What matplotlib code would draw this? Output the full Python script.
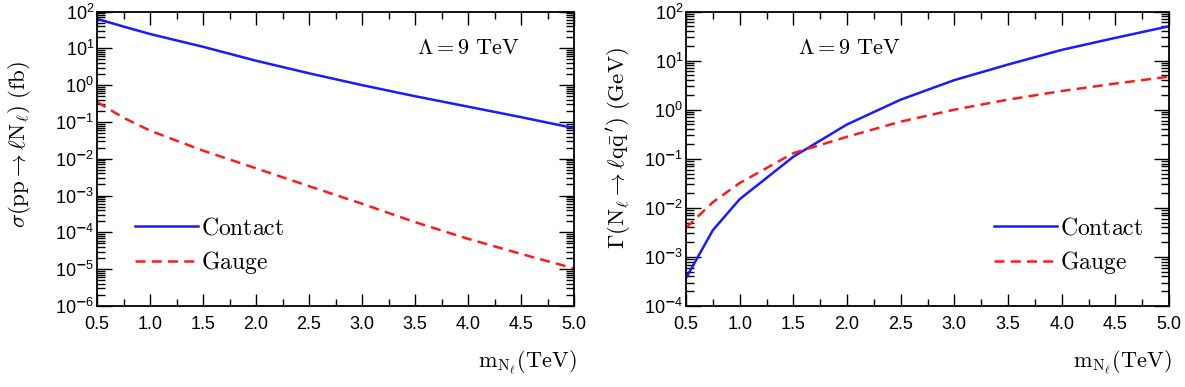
import matplotlib
matplotlib.use("Agg")
import matplotlib.pyplot as plt
from matplotlib.ticker import FixedLocator, LogLocator, FuncFormatter, NullFormatter
import numpy as np

plt.rcParams['mathtext.fontset'] = 'custom'
plt.rcParams['mathtext.rm'] = 'Liberation Sans'
plt.rcParams['mathtext.it'] = 'Liberation Sans:italic'
plt.rcParams['font.family'] = ['Liberation Sans', 'DejaVu Sans']

# ---- data ----
mass_left = [0.5, 0.75, 1.0, 1.5, 2.0, 2.5, 3.0, 3.5, 4.0, 4.5, 5.0]
sigma_contact = [63, 39, 24.5, 11, 4.6, 2.1, 1.0, 0.50, 0.26, 0.135, 0.068]
sigma_gauge = [0.35, 0.13, 0.058, 0.0166, 0.0055, 0.0018, 6.0e-4, 1.9e-4, 6.7e-5, 2.6e-5, 1.05e-5]

mass_right = [0.5, 0.75, 1.0, 1.5, 2.0, 2.5, 3.0, 3.5, 4.0, 4.5, 5.0]
gamma_contact = [3.7e-4, 3.5e-3, 0.015, 0.11, 0.50, 1.6, 4.0, 8.3, 16.5, 29, 50]
gamma_gauge = [3.9e-3, 0.013, 0.032, 0.13, 0.28, 0.57, 1.0, 1.6, 2.4, 3.4, 4.7]

series_labels = ['Contact', 'Gauge']
xticks = [0.5, 1.0, 1.5, 2.0, 2.5, 3.0, 3.5, 4.0, 4.5, 5.0]
lambda_text = r'$\Lambda = 9\ \mathrm{TeV}$'
xlabel = r'$\mathrm{m}_{\mathrm{N}_{\ell}}(\mathrm{TeV})$'
ylabel_left = r'$\sigma(\mathrm{pp}\rightarrow\ell\mathrm{N}_{\ell})\ (\mathrm{fb})$'
ylabel_right = r"$\Gamma(\mathrm{N}_{\ell}\rightarrow\ell\mathrm{q}\bar{\mathrm{q}}^{\,\prime})\ (\mathrm{GeV})$"

fig = plt.figure(figsize=(11.85, 3.87), dpi=100)
axL = fig.add_axes([97/1185, 1-306/387, 477/1185, 294.5/387])
axR = fig.add_axes([686/1185, 1-306/387, 483/1185, 294.5/387])

blue = '#1a1aff'
red = '#ff1a1a'

def fmt(v, pos):
    e = int(round(np.log10(v)))
    if e < 0:
        return r'$10^{\mathbf{-}%d}$' % (-e)
    return r'$10^{%d}$' % e

def style(ax, ylim):
    ax.set_yscale('log')
    ax.set_xlim(0.5, 5.0)
    ax.set_ylim(*ylim)
    ax.xaxis.set_major_locator(FixedLocator(xticks))
    ax.xaxis.set_minor_locator(FixedLocator(np.arange(0.75, 5.0, 0.5)))
    ax.xaxis.set_major_formatter(FuncFormatter(lambda v, p: '%.1f' % v))
    ax.yaxis.set_major_locator(LogLocator(base=10, numticks=20))
    ax.yaxis.set_minor_locator(LogLocator(base=10, subs=np.arange(2, 10), numticks=20))
    ax.yaxis.set_major_formatter(FuncFormatter(fmt))
    ax.yaxis.set_minor_formatter(NullFormatter())
    ax.tick_params(axis='both', which='both', direction='in', top=True, right=True,
                   width=1.0, colors='black', labelsize=13)
    ax.tick_params(axis='x', which='major', length=9, pad=7)
    ax.tick_params(axis='x', which='minor', length=5)
    ax.tick_params(axis='y', which='major', length=11, pad=2)
    ax.tick_params(axis='y', which='minor', length=5.5)
    for s in ax.spines.values():
        s.set_linewidth(1.3)

# Left panel
axL.plot(mass_left, sigma_contact, color=blue, lw=1.8, label=series_labels[0])
axL.plot(mass_left, sigma_gauge, color=red, lw=1.8, ls=(0, (4, 2.5)), label=series_labels[1])
style(axL, (1e-6, 1e2))

# Right panel
axR.plot(mass_right, gamma_contact, color=blue, lw=1.8, label=series_labels[0])
axR.plot(mass_right, gamma_gauge, color=red, lw=1.8, ls=(0, (4, 2.5)), label=series_labels[1])
style(axR, (1e-4, 1e2))

for ax, lx, anchor, ylab, ylx, yly in [(axL, 0.778, (0.08, 0.305), ylabel_left, -0.134, 0.547),
                                       (axR, 0.337, (0.638, 0.305), ylabel_right, -0.11, 0.537)]:
    ax.text(lx, 0.876, lambda_text, transform=ax.transAxes, fontsize=16,
            ha='center', va='center', math_fontfamily='cm')
    leg = ax.legend(loc='upper left', bbox_to_anchor=anchor, frameon=False,
                    handlelength=2.65, handletextpad=0.15, labelspacing=0.42,
                    prop={'family': 'DejaVu Serif', 'size': 17}, borderaxespad=0,
                    borderpad=0)
    for t in leg.get_texts():
        t.set_text(r'$\mathrm{%s}$' % t.get_text())
        t.set_math_fontfamily('cm')
    ax.set_xlabel(xlabel, fontsize=16, math_fontfamily='cm')
    ax.xaxis.set_label_coords(1.006, -0.145)
    ax.xaxis.label.set_ha('right')
    ax.set_ylabel(ylab, fontsize=16.5, math_fontfamily='cm')
    ax.yaxis.set_label_coords(ylx, yly)

fig.savefig('out.png', dpi=100)
